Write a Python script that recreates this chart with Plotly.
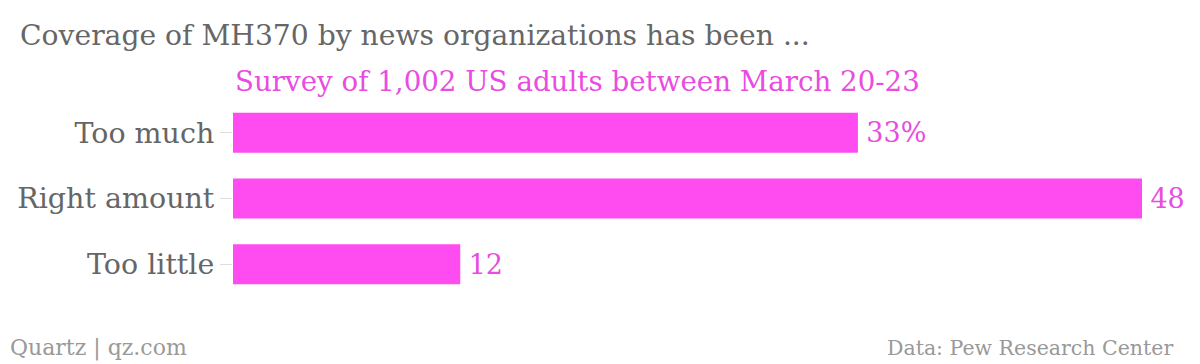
import plotly.graph_objects as go

categories = ["Too much", "Right amount", "Too little"]
values = [33, 48, 12]
value_labels = ["33%", "48", "12"]

title_text = "Coverage of MH370 by news organizations has been ..."
subtitle_text = "Survey of 1,002 US adults between March 20-23"
source_left = "Quartz | qz.com"
source_right = "Data: Pew Research Center"

FONT = "DejaVu Serif"
BAR = "#ff4cf0"
PINK_TEXT = "#e84ce0"
GRAY = "#666666"

fig = go.Figure(go.Bar(
    x=values,
    y=categories,
    orientation="h",
    marker=dict(color=BAR, line=dict(width=0)),
    width=0.61,
    text=["\u2009" + t for t in value_labels],
    textposition="outside",
    textfont=dict(family=FONT, size=27, color=PINK_TEXT),
    cliponaxis=False,
    hoverinfo="skip",
))

L, R, T, B = 233, 58, 100, 67
fig.update_layout(
    width=1200, height=364,
    margin=dict(l=L, r=R, t=T, b=B, autoexpand=False),
    paper_bgcolor="white", plot_bgcolor="white",
    showlegend=False,
    xaxis=dict(range=[0, 48], visible=False, fixedrange=True),
    yaxis=dict(
        autorange="reversed", fixedrange=True,
        showgrid=False, zeroline=False, showline=False,
        ticks="outside", ticklen=12, tickcolor="#dddddd", tickwidth=1,
        tickfont=dict(family=FONT, size=28.5, color=GRAY),
        ticklabelstandoff=0,
    ),
)

pw = 1200 - L - R
ph = 364 - T - B

def px(x):
    return (x - L) / pw

def py(y):
    return (364 - B - y) / ph

anns = [
    (title_text, 18, 35, "left", 28.2, GRAY),
    (subtitle_text, 233, 82, "left", 27.7, PINK_TEXT),
    (source_left, 8, 348, "left", 22, "#999999"),
    (source_right, 1175, 348, "right", 20.5, "#999999"),
]
for text, x, y, anchor, size, color in anns:
    fig.add_annotation(text=text, x=px(x), y=py(y), xref="paper", yref="paper",
                       showarrow=False, xanchor=anchor, yanchor="middle",
                       font=dict(family=FONT, size=size, color=color))

fig.write_html("out.html", config={"displayModeBar": False},
               post_script="document.body.style.margin='0';document.body.style.padding='0';")
